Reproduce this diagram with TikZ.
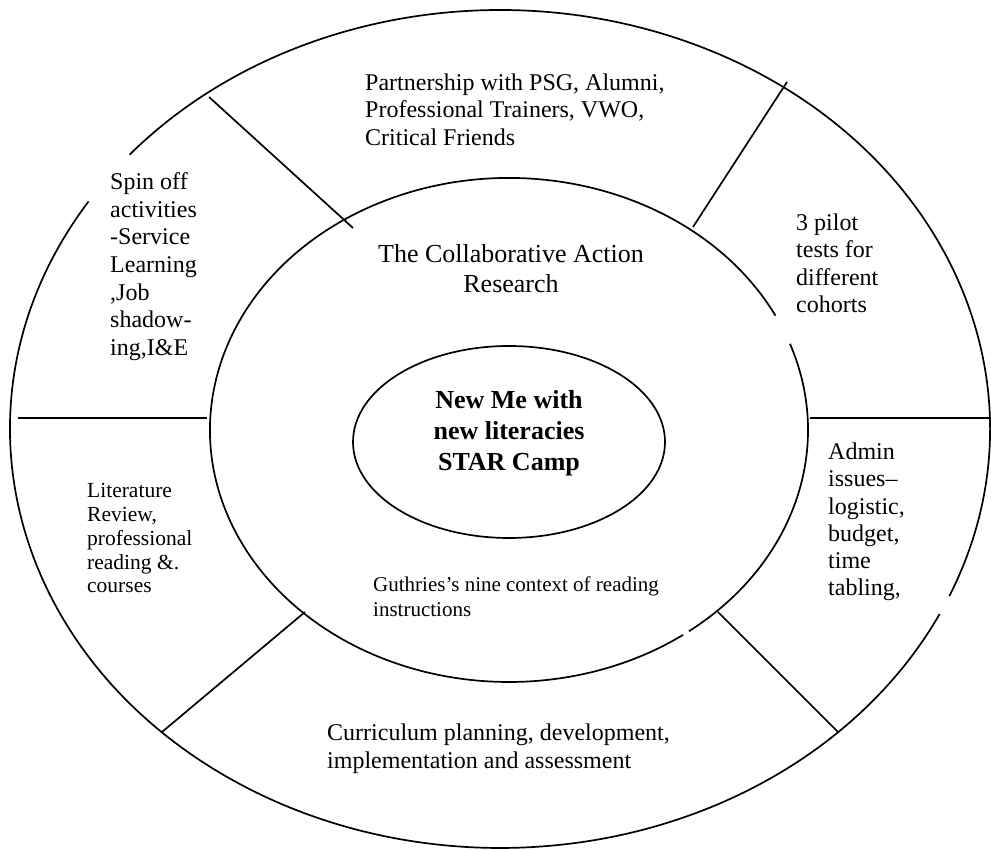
\documentclass[tikz,border=0pt]{standalone}
\usepackage{fontspec}
\setmainfont{Liberation Serif}
\usetikzlibrary{shapes.geometric,calc}
\begin{document}
\begin{tikzpicture}[x=1pt,y=1pt,
  ring/.style={line width=1.7pt},
  sepline/.style={line width=1.7pt},
  lbl/.style={inner sep=0pt, align=left, anchor=north west},
  clbl/.style={inner sep=0pt, align=center, anchor=north},
]
\fill[white] (0,0) rectangle (991,850);
\useasboundingbox (0,0) rectangle (991,850);
\coordinate (oc) at (500,421);
\coordinate (mc) at (509,420);
% outer ring (two gaps)
\draw[ring] ($(oc)+(147.1:490 and 419)$) arc[start angle=147.1,end angle=333.8,x radius=490,y radius=419];
\draw[ring] ($(oc)+(336.5:490 and 419)$) arc[start angle=336.5,end angle=499.1,x radius=490,y radius=419];
% middle ring (two gaps)
\draw[ring] ($(mc)+(27:299 and 252)$) arc[start angle=27,end angle=305.6,x radius=299,y radius=252];
\draw[ring] ($(mc)+(307:299 and 252)$) arc[start angle=307,end angle=380,x radius=299,y radius=252];
% inner ellipse
\node[ring, draw, ellipse, minimum width=312pt, minimum height=192pt, inner sep=0pt] (core) at (509,408) {};
% dividers
\coordinate (d1a) at (209,753); \coordinate (d1b) at (353,622);
\coordinate (d2a) at (787,768); \coordinate (d2b) at (693,623);
\coordinate (d3a) at (305,238); \coordinate (d3b) at (162,118);
\coordinate (d4a) at (718,238); \coordinate (d4b) at (838,118);
\coordinate (d5a) at (18,432);  \coordinate (d5b) at (207,432);
\coordinate (d6a) at (810,432); \coordinate (d6b) at (991,432);
\draw[sepline] (d1a) -- (d1b);
\draw[sepline] (d2a) -- (d2b);
\draw[sepline] (d3a) -- (d3b);
\draw[sepline] (d4a) -- (d4b);
\draw[sepline] (d5a) -- (d5b);
\draw[sepline] (d6a) -- (d6b);
% texts
\node[lbl, font=\fontsize{24}{27.5}\selectfont] (partner) at (365,776.4) {Partnership with PSG, Alumni,\\Professional Trainers, VWO,\\Critical Friends};
\node[clbl, font=\fontsize{26}{30}\selectfont] (car) at (511,605.8) {The Collaborative Action\\Research};
\node[lbl, font=\fontsize{24}{27.6}\selectfont] (spin) at (110,677.4) {Spin off\\activities\\-Service\\Learning\\,Job\\shadow-\\ing,I\&E};
\node[lbl, font=\fontsize{24}{27.3}\selectfont] (pilot) at (796,636.4) {3 pilot\\tests for\\different\\cohorts};
\node[clbl, font=\fontsize{26}{31}\selectfont\bfseries] (newme) at (509,459.6) {New Me with\\new literacies\\STAR Camp};
\node[lbl, font=\fontsize{21.5}{23.8}\selectfont] (lit) at (87,366.7) {Literature\\Review,\\professional\\reading \&.\\courses};
\node[lbl, font=\fontsize{21}{25}\selectfont] (guth) at (373,273.3) {Guthries’s nine context of reading\\instructions};
\node[lbl, font=\fontsize{24}{28}\selectfont] (curr) at (327,126.4) {Curriculum planning, development,\\implementation and assessment};
\node[lbl, font=\fontsize{24}{27.3}\selectfont] (admin) at (828,407.4) {Admin\\issues–\\logistic,\\budget,\\time\\tabling,};
\end{tikzpicture}
\end{document}
